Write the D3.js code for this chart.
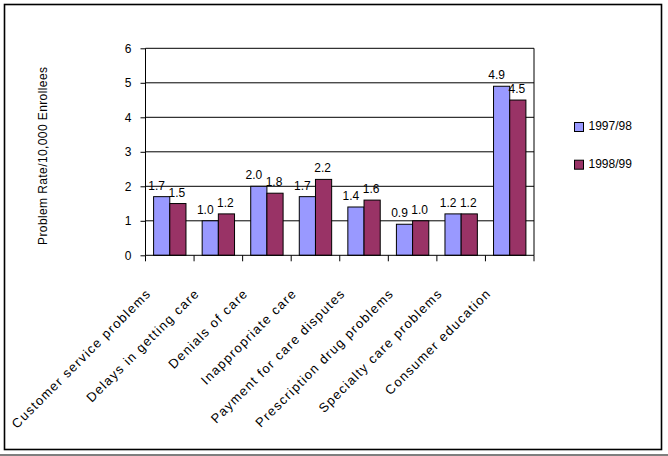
<!DOCTYPE html>
<html>
<head>
<meta charset="utf-8">
<script src="https://cdn.jsdelivr.net/npm/d3@7"></script>
<style>
  html, body { margin: 0; padding: 0; background: #fff; }
  svg { display: block; font-family: "Liberation Sans", Arial, sans-serif; }
</style>
</head>
<body>
<svg id="chart" width="668" height="456"></svg>
<script>
const categories = [
  "Customer service problems",
  "Delays in getting care",
  "Denials of care",
  "Inappropriate care",
  "Payment for care disputes",
  "Prescription drug problems",
  "Specialty care problems",
  "Consumer education"
];
const seriesNames = ["1997/98", "1998/99"];
const values9798 = [1.7, 1.0, 2.0, 1.7, 1.4, 0.9, 1.2, 4.9];
const values9899 = [1.5, 1.2, 1.8, 2.2, 1.6, 1.0, 1.2, 4.5];
const yTicks = [0, 1, 2, 3, 4, 5, 6];
const yTitle = "Problem Rate/10,000 Enrollees";
const colors = ["#9999FF", "#993366"];

const svg = d3.select("#chart");

// outer frame
svg.append("rect").attr("x", 4.5).attr("y", 4.5).attr("width", 657).attr("height", 445)
  .attr("fill", "none").attr("stroke", "#000").attr("stroke-width", 1.6);
svg.append("line").attr("x1", 0).attr("x2", 668).attr("y1", 455).attr("y2", 455)
  .attr("stroke", "#000").attr("stroke-width", 1.2);

const plot = { left: 145.5, right: 534, top: 48.3, bottom: 255.3 };

const x0 = d3.scaleBand().domain(categories).range([plot.left, plot.right]).paddingInner(0).paddingOuter(0);
const x1 = d3.scaleBand().domain(seriesNames).range([0, x0.bandwidth()]).paddingInner(0).paddingOuter(0.5);
const y = d3.scaleLinear().domain([0, 6]).range([plot.bottom, plot.top]);

// gridlines
svg.append("g").selectAll("line").data(yTicks.filter(d => d > 0)).join("line")
  .attr("x1", plot.left).attr("x2", plot.right)
  .attr("y1", d => y(d)).attr("y2", d => y(d))
  .attr("stroke", "#000").attr("stroke-width", 1);

// plot right border
svg.append("line").attr("x1", plot.right).attr("x2", plot.right)
  .attr("y1", plot.top).attr("y2", plot.bottom).attr("stroke", "#000");

// y axis
const yAxis = d3.axisLeft(y).tickValues(yTicks).tickSize(5).tickPadding(9).tickFormat(d3.format("d"));
const yg = svg.append("g").attr("transform", `translate(${plot.left},0)`).call(yAxis);
yg.select(".domain").attr("stroke", "#000").attr("d", `M0,${plot.top}V${plot.bottom}`);
yg.selectAll(".tick line").attr("stroke", "#000");
yg.selectAll(".tick text").attr("font-size", 12).attr("fill", "#000")
  .attr("font-family", "Liberation Sans, Arial, sans-serif");

// bars
const data = categories.map((c, i) => ({ cat: c, vals: [values9798[i], values9899[i]] }));
const groups = svg.append("g").selectAll("g").data(data).join("g")
  .attr("transform", d => `translate(${x0(d.cat)},0)`);
groups.selectAll("rect").data(d => d.vals.map((v, j) => ({ v, s: seriesNames[j], j }))).join("rect")
  .attr("x", d => x1(d.s)).attr("width", x1.bandwidth())
  .attr("y", d => y(d.v)).attr("height", d => y(0) - y(d.v))
  .attr("fill", d => colors[d.j]).attr("stroke", "#000").attr("stroke-width", 1);
const labelShift = [-5, -1];
groups.selectAll("text").data(d => d.vals.map((v, j) => ({ v, s: seriesNames[j], j }))).join("text")
  .attr("x", d => x1(d.s) + x1.bandwidth() / 2 + labelShift[d.j])
  .attr("y", d => y(d.v) - 7)
  .attr("text-anchor", "middle").attr("font-size", 12).attr("fill", "#000")
  .text(d => d.v.toFixed(1));

// x axis
const xAxis = d3.axisBottom(x0).tickSize(0).tickFormat("");
const xg = svg.append("g").attr("transform", `translate(0,${plot.bottom})`).call(xAxis);
xg.select(".domain").attr("stroke", "#000").attr("d", `M${plot.left},0H${plot.right}`);
// boundary ticks
const bounds = categories.map(c => x0(c)).concat([plot.right]);
xg.selectAll(".bt").data(bounds).join("line").attr("class", "bt")
  .attr("x1", d => d).attr("x2", d => d).attr("y1", 0).attr("y2", 6).attr("stroke", "#000");

// category labels
svg.append("g").selectAll("text").data(categories).join("text")
  .attr("transform", d => `translate(${x0(d) + x0.bandwidth() / 2 - 18},${plot.bottom + 39}) rotate(-45)`)
  .attr("text-anchor", "end").attr("font-size", 13).attr("letter-spacing", 1.3).attr("fill", "#000")
  .text(d => d);

// y title
svg.append("text")
  .attr("transform", `translate(46.5,${(plot.top + plot.bottom) / 2 + 4}) rotate(-90)`)
  .attr("text-anchor", "middle").attr("font-size", 12).attr("letter-spacing", 0.4).attr("fill", "#000")
  .text(yTitle);

// legend
const legend = svg.append("g").selectAll("g").data(seriesNames).join("g")
  .attr("transform", (d, i) => `translate(574.5,${122.5 + i * 37.7})`);
legend.append("rect").attr("width", 9).attr("height", 9)
  .attr("fill", (d, i) => colors[i]).attr("stroke", "#000").attr("stroke-width", 1);
legend.append("text").attr("x", 14).attr("y", 7.5).attr("font-size", 12).attr("fill", "#000")
  .text(d => d);
</script>
</body>
</html>
